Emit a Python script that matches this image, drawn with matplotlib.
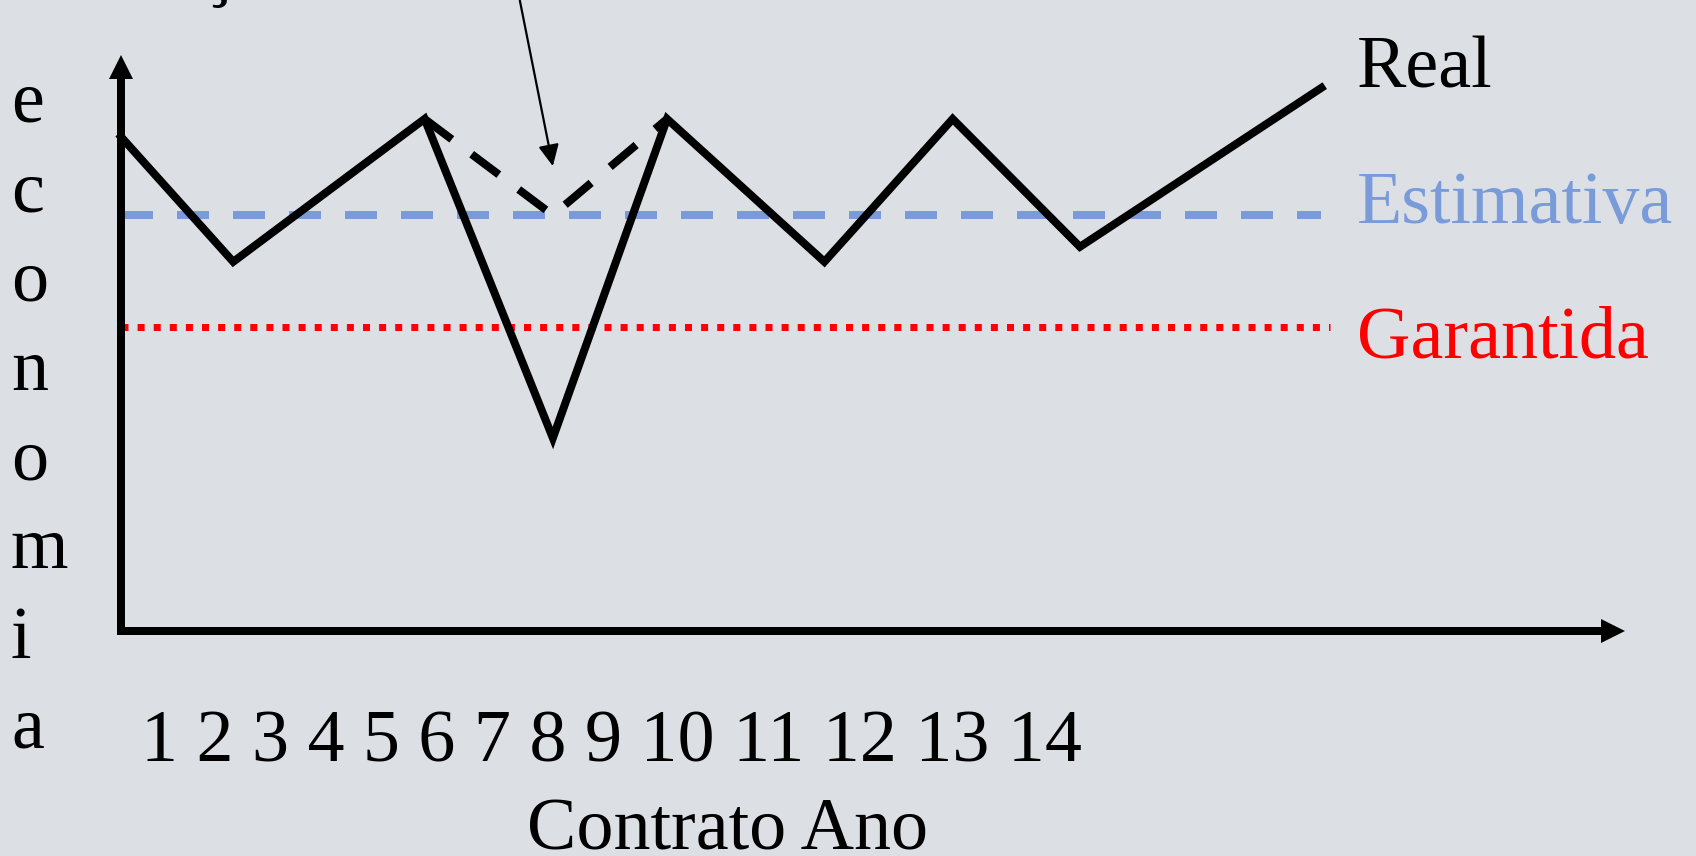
import matplotlib
matplotlib.use("Agg")
import matplotlib.pyplot as plt

# --- chart data -----------------------------------------------------------
# measured savings ("Real") per contract period
real_x = [0.0, 1.12, 3.03, 4.31, 5.45, 7.02, 8.30, 9.57, 11.98]
real_y = [8.58, 6.41, 8.89, 3.35, 8.89, 6.41, 8.89, 6.67, 9.43]
# adjusted path during the dip (dashed)
ajuste_x = [3.03, 4.31, 5.45]
ajuste_y = [8.89, 7.22, 8.89]
# reference levels
estimativa = 7.22
estimativa_fim = 11.98
garantida = 5.28
garantida_fim = 12.07
anos = [str(a) for a in range(1, 15)]
eixo_y = list("economia")
series_labels = ["Real", "Estimativa", "Garantida"]

# --- figure ---------------------------------------------------------------
W, H, DPI = 1696, 856, 100
BG = "#DCDFE4"
BLUE = "#7A9BDA"
RED = "#FF0000"
FONT = "Liberation Serif"
FS = 74 * 72 / DPI  # 74 px text


def pt(px):
    return px * 72 / DPI


fig = plt.figure(figsize=(W / DPI, H / DPI), dpi=DPI, facecolor=BG)


def fx(px):
    return px / W


def fy(py):
    return 1 - py / H


ax_left, ax_right, ax_top, ax_bottom = 121, 1624, 55, 631
ax = fig.add_axes([fx(ax_left), fy(ax_bottom), fx(ax_right - ax_left), (ax_bottom - ax_top) / H])
ax.set_xlim(0, 15)
ax.set_ylim(0, 10)
ax.axis("off")
ax.patch.set_alpha(0)

px_x = (ax_right - ax_left) / 15.0
px_y = (ax_bottom - ax_top) / 10.0
lw_axis = pt(8)

# axes with arrow heads
head_y = 24 / px_y
head_x = 23 / px_x
ax.plot([0, 0], [10 - head_y, 0 - 0.5 * 8 / px_y], color="black", lw=lw_axis,
        solid_capstyle="butt", clip_on=False, zorder=3)
ax.plot([0, 15 - head_x], [0, 0], color="black", lw=lw_axis,
        solid_capstyle="butt", clip_on=False, zorder=3)
ax.plot([0], [10 - head_y / 2], marker="^", markersize=pt(24), color="black",
        markeredgewidth=0, clip_on=False, zorder=3)
ax.plot([15 - head_x / 2], [0], marker=">", markersize=pt(24), color="black",
        markeredgewidth=0, clip_on=False, zorder=3)

# reference levels
ax.plot([0, estimativa_fim], [estimativa, estimativa], color=BLUE, lw=pt(8),
        linestyle=(0, (4.0, 3.0)), dash_capstyle="butt", clip_on=False, zorder=1)
ax.plot([0, garantida_fim], [garantida, garantida], color=RED, lw=pt(7),
        linestyle=(0, (1.0, 1.3)), dash_capstyle="butt", clip_on=False, zorder=1)

# measured savings and adjusted path
ax.plot(real_x, real_y, color="black", lw=lw_axis, solid_joinstyle="miter",
        clip_on=False, zorder=4)
ax.plot(ajuste_x, ajuste_y, color="black", lw=lw_axis, linestyle=(0, (4.25, 3.1)),
        dash_capstyle="butt", clip_on=False, zorder=4)

# pointer to the adjusted dip
ax.annotate("", xy=(4.31, 8.07), xytext=(3.98, 10.95),
            arrowprops=dict(arrowstyle="-|>,head_length=0.5,head_width=0.24",
                            lw=1.6, color="black", mutation_scale=26,
                            shrinkA=0, shrinkB=0),
            annotation_clip=False, zorder=5)

# series labels
label_colors = ["black", BLUE, RED]
label_base = [88, 223, 357]
for txt, col, yb in zip(series_labels, label_colors, label_base):
    fig.text(fx(1357), fy(yb), txt, color=col, fontsize=FS, family=FONT,
             ha="left", va="baseline")

# vertical axis title, one letter per line
for i, ch in enumerate(eixo_y):
    fig.text(fx(11), fy(122 + 89.3 * i), ch, color="black", fontsize=FS, family=FONT,
             ha="left", va="baseline")

# year row and axis title
fig.text(fx(141), fy(761), " ".join(anos), color="black", fontsize=FS, family=FONT,
         ha="left", va="baseline")
fig.text(fx(728), fy(849), "Contrato Ano", color="black", fontsize=FS, family=FONT,
         ha="center", va="baseline")

# heading above the plot area
fig.text(fx(45), fy(-8), "Variação", color="black", fontsize=FS, family=FONT,
         ha="left", va="baseline")

fig.savefig("out.png", dpi=DPI, facecolor=BG)
